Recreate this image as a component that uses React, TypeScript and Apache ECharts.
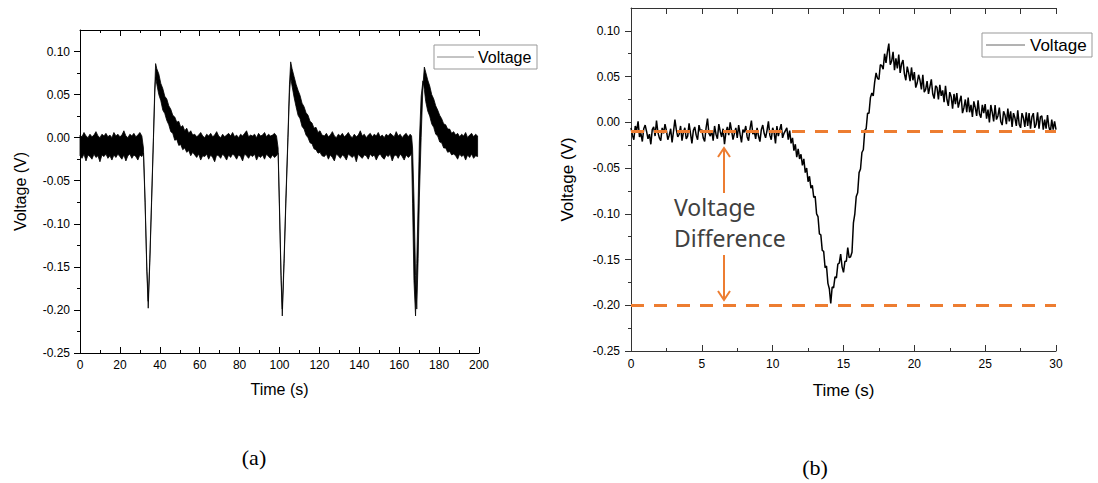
import React, { useEffect, useRef } from 'react';
import * as echarts from 'echarts';

// ---------- Panel (a): noisy trace read as upper / lower envelope ----------
const timeA = [
  // baseline
  0, 1, 2, 3, 4, 5, 6, 7, 8, 9, 10, 11, 12, 13, 14, 15, 16, 17, 18, 19, 20, 21, 22, 23, 24, 25, 26, 27, 28, 29, 30, 31,
  // pulse 1
  31.8, 32.6, 33.5, 34.2, 35.0, 35.9, 36.8, 37.5, 37.9,
  38.5, 39.5, 40.5, 41.5, 42.5, 43.5, 44.5, 45.5, 46.5, 47.5, 48.5, 49.5, 50.5, 51.5, 52.5, 53.5, 54.5, 55.5, 56.5,
  // baseline
  57.5, 58.5, 59.5, 60.5, 61.5, 62.5, 63.5, 64.5, 65.5, 66.5, 67.5, 68.5, 69.5, 70.5, 71.5, 72.5, 73.5, 74.5, 75.5, 76.5,
  77.5, 78.5, 79.5, 80.5, 81.5, 82.5, 83.5, 84.5, 85.5, 86.5, 87.5, 88.5, 89.5, 90.5, 91.5, 92.5, 93.5, 94.5, 95.5, 96.5,
  97.5, 98.5,
  // pulse 2
  99.3, 99.9, 100.8, 101.4, 102.3, 103.2, 104.2, 105.0, 105.6,
  106.3, 107.3, 108.3, 109.3, 110.3, 111.3, 112.3, 113.3, 114.3, 115.3, 116.3, 117.3, 118.3, 119.3, 120.3, 121.3,
  // baseline
  122.5, 123.5, 124.5, 125.5, 126.5, 127.5, 128.5, 129.5, 130.5, 131.5, 132.5, 133.5, 134.5, 135.5, 136.5, 137.5, 138.5,
  139.5, 140.5, 141.5, 142.5, 143.5, 144.5, 145.5, 146.5, 147.5, 148.5, 149.5, 150.5, 151.5, 152.5, 153.5, 154.5, 155.5,
  156.5, 157.5, 158.5, 159.5, 160.5, 161.5, 162.5, 163.5, 164.5, 165.5, 166.2,
  // pulse 3
  166.7, 167.4, 168.2, 168.8, 169.5, 170.1, 171.0, 171.9, 172.6,
  173.3, 174.3, 175.3, 176.3, 177.3, 178.3, 179.3, 180.3, 181.3, 182.3, 183.3, 184.3, 185.3, 186.3, 187.3, 188.3,
  // baseline
  189.3, 190.3, 191.3, 192.3, 193.3, 194.3, 195.3, 196.3, 197.3, 198.3, 199.3, 200,
];
const upperA = [
  0.003, 0.001, 0.006, 0.002, 0.000, 0.004, 0.001, 0.003, 0.007, 0.002, 0.000, 0.004, 0.002, 0.005, 0.001, 0.003,
  0.000, 0.006, 0.002, 0.004, 0.001, 0.003, 0.008, 0.002, 0.000, 0.004, 0.002, 0.005, 0.001, 0.003, 0.006, 0.002,
  -0.012, -0.070, -0.150, -0.190, -0.140, -0.070, 0.000, 0.060, 0.086,
  0.080, 0.074, 0.063, 0.057, 0.048, 0.045, 0.037, 0.033, 0.026, 0.024, 0.018, 0.019, 0.012, 0.014, 0.008, 0.011, 0.005, 0.008, 0.003,
  0.004, 0.001, 0.003, 0.006, 0.002, 0.000, 0.004, 0.002, 0.005, 0.001, 0.003, 0.007, 0.002, 0.000, 0.004, 0.001, 0.003, 0.005, 0.002, 0.006,
  0.001, 0.003, 0.000, 0.004, 0.002, 0.005, 0.008, 0.001, 0.003, 0.002, 0.004, 0.000, 0.005, 0.002, 0.003, 0.006, 0.001, 0.004, 0.002, 0.003,
  0.005, 0.002,
  -0.012, -0.070, -0.160, -0.199, -0.140, -0.070, 0.000, 0.062, 0.088,
  0.080, 0.071, 0.062, 0.055, 0.049, 0.040, 0.036, 0.029, 0.026, 0.019, 0.017, 0.011, 0.012, 0.006, 0.008, 0.003,
  0.002, 0.005, 0.001, 0.003, 0.007, 0.002, 0.000, 0.004, 0.002, 0.005, 0.001, 0.003, 0.006, 0.002, 0.000, 0.004, 0.001,
  0.003, 0.008, 0.002, 0.004, 0.000, 0.003, 0.005, 0.001, 0.004, 0.002, 0.006, 0.001, 0.003, 0.000, 0.004, 0.002, 0.005,
  0.003, 0.001, 0.007, 0.002, 0.004, 0.000, 0.003, 0.005, 0.001, 0.004, 0.002,
  -0.012, -0.070, -0.160, -0.199, -0.140, -0.070, 0.000, 0.060, 0.082,
  0.076, 0.067, 0.060, 0.050, 0.045, 0.037, 0.032, 0.026, 0.022, 0.016, 0.015, 0.010, 0.010, 0.005, 0.007, 0.003,
  0.005, 0.001, 0.004, 0.002, 0.006, 0.000, 0.003, 0.005, 0.001, 0.004, 0.002, 0.004,
];
const lowerA = [
  -0.021, -0.024, -0.019, -0.027, -0.020, -0.022, -0.025, -0.019, -0.023, -0.021, -0.028, -0.020, -0.022, -0.019, -0.024, -0.021,
  -0.026, -0.020, -0.023, -0.019, -0.022, -0.025, -0.020, -0.027, -0.021, -0.019, -0.024, -0.020, -0.022, -0.026, -0.020, -0.022,
  -0.018, -0.075, -0.155, -0.198, -0.145, -0.075, -0.004, 0.052, 0.070,
  0.062, 0.050, 0.043, 0.032, 0.028, 0.020, 0.015, 0.007, 0.005, -0.003, -0.002, -0.009, -0.008, -0.014, -0.012, -0.017, -0.015, -0.021, -0.017,
  -0.020, -0.023, -0.019, -0.026, -0.021, -0.022, -0.019, -0.025, -0.020, -0.023, -0.028, -0.020, -0.021, -0.024, -0.019, -0.022, -0.026, -0.020, -0.023, -0.019,
  -0.021, -0.025, -0.020, -0.022, -0.027, -0.019, -0.021, -0.024, -0.020, -0.022, -0.019, -0.026, -0.021, -0.023, -0.020, -0.025, -0.019, -0.022, -0.024, -0.020,
  -0.023, -0.021,
  -0.018, -0.076, -0.166, -0.207, -0.146, -0.076, -0.005, 0.052, 0.070,
  0.060, 0.047, 0.036, 0.026, 0.022, 0.013, 0.010, 0.003, 0.000, -0.006, -0.007, -0.013, -0.014, -0.018, -0.017, -0.021,
  -0.022, -0.019, -0.025, -0.020, -0.023, -0.027, -0.019, -0.021, -0.024, -0.020, -0.022, -0.026, -0.019, -0.021, -0.023, -0.020, -0.028,
  -0.019, -0.022, -0.024, -0.020, -0.021, -0.025, -0.019, -0.022, -0.020, -0.026, -0.021, -0.019, -0.023, -0.025, -0.020, -0.022,
  -0.019, -0.027, -0.021, -0.020, -0.024, -0.019, -0.022, -0.026, -0.020, -0.023, -0.021,
  -0.018, -0.076, -0.166, -0.207, -0.146, -0.076, -0.005, 0.048, 0.066,
  0.056, 0.042, 0.031, 0.025, 0.016, 0.012, 0.004, 0.002, -0.005, -0.006, -0.012, -0.012, -0.017, -0.016, -0.020, -0.019,
  -0.021, -0.025, -0.019, -0.022, -0.020, -0.026, -0.020, -0.023, -0.019, -0.024, -0.021, -0.022,
];

// ---------- Panel (b): trace sampled every 0.1 s, 0 .. 30 s ----------
const sampleStepB = 0.1;
const voltB = [
  -0.006, -0.014, -0.019, -0.004, -0.009, 0.001, -0.016, -0.012, -0.021, -0.007,
  -0.003, -0.010, -0.018, -0.013, -0.024, -0.008, -0.005, -0.015, 0.002, -0.011,
  -0.017, -0.020, -0.006, -0.012, -0.002, -0.009, -0.019, -0.014, -0.007, -0.022,
  -0.010, 0.003, -0.008, -0.016, -0.013, -0.004, -0.020, -0.011, -0.006, -0.018,
  -0.015, -0.001, -0.012, -0.023, -0.009, -0.005, -0.014, -0.019, -0.003, -0.010,
  -0.008, -0.017, -0.021, -0.006, 0.004, -0.012, -0.015, -0.009, -0.020, -0.004,
  -0.013, -0.018, -0.002, -0.010, -0.016, -0.007, -0.024, -0.011, -0.005, -0.014,
  0.000, -0.009, -0.019, -0.012, -0.006, -0.017, -0.003, -0.013, -0.022, -0.008,
  -0.011, -0.004, -0.016, -0.020, -0.007, 0.002, -0.013, -0.010, -0.018, -0.006,
  -0.015, -0.021, -0.008, -0.003, -0.012, -0.017, -0.009, 0.001, -0.014, -0.019,
  -0.006, -0.011, -0.023, -0.004, -0.015, -0.008, -0.002, -0.017, -0.012, -0.009,
  -0.006, -0.019, -0.009, -0.023, -0.017, -0.031, -0.024, -0.038, -0.029, -0.040,
  -0.035, -0.047, -0.040, -0.055, -0.050, -0.065, -0.059, -0.072, -0.069, -0.082,
  -0.081, -0.100, -0.103, -0.122, -0.123, -0.140, -0.141, -0.159, -0.157, -0.176,
  -0.182, -0.198, -0.180, -0.181, -0.169, -0.170, -0.155, -0.154, -0.144, -0.158,
  -0.164, -0.152, -0.152, -0.137, -0.148, -0.147, -0.142, -0.110, -0.100, -0.081,
  -0.077, -0.055, -0.051, -0.033, -0.030, -0.009, -0.007, 0.010, 0.010, 0.027,
  0.032, 0.029, 0.044, 0.054, 0.048, 0.047, 0.063, 0.062, 0.058, 0.075,
  0.065, 0.077, 0.086, 0.063, 0.067, 0.077, 0.057, 0.070, 0.059, 0.074,
  0.054, 0.064, 0.068, 0.053, 0.046, 0.061, 0.054, 0.045, 0.060, 0.046,
  0.055, 0.038, 0.043, 0.052, 0.046, 0.036, 0.052, 0.033, 0.036, 0.045,
  0.031, 0.039, 0.047, 0.031, 0.026, 0.040, 0.038, 0.025, 0.041, 0.029,
  0.035, 0.022, 0.040, 0.025, 0.018, 0.033, 0.028, 0.015, 0.031, 0.020,
  0.032, 0.016, 0.023, 0.029, 0.010, 0.016, 0.025, 0.011, 0.027, 0.011,
  0.019, 0.006, 0.023, 0.016, 0.007, 0.024, 0.009, 0.005, 0.019, 0.010,
  0.020, 0.004, 0.014, 0.000, 0.019, 0.011, 0.001, 0.019, 0.003, 0.007,
  0.016, 0.001, -0.003, 0.012, 0.008, -0.002, 0.015, 0.001, 0.012, -0.005,
  0.010, 0.005, -0.004, 0.013, -0.002, -0.006, 0.010, 0.005, -0.005, 0.011,
  -0.004, 0.010, -0.007, 0.006, 0.010, -0.006, -0.002, 0.011, -0.007, 0.006,
  0.007, -0.008, 0.003, -0.007, 0.008, -0.005, -0.011, 0.003, -0.008, 0.001,
  -0.008,
];
const baselineB = -0.011;
const troughB = -0.2035;

// ---------- Tick values ----------
const yTickValues = [-0.25, -0.2, -0.15, -0.1, -0.05, 0, 0.05, 0.1];
const xMaxA = 200;
const xIntervalA = 20;
const xMaxB = 30;
const xIntervalB = 5;
const yMin = -0.25;
const yMax = 0.125;

const sans = "'Liberation Sans', Arial, sans-serif";
const orange = '#ED7D31';

function bottomAxis(gridIndex: number, max: number, interval: number, color: string, nameSize: number, nameGap: number, labelMargin: number) {
  return {
    type: 'value', gridIndex, position: 'bottom', min: 0, max, interval,
    name: 'Time (s)', nameLocation: 'middle', nameGap,
    nameTextStyle: { fontFamily: sans, fontSize: nameSize, color: '#000' },
    axisLine: { show: true, onZero: false, lineStyle: { color, width: 1 } },
    axisTick: { show: true, inside: true, length: 6, lineStyle: { color, width: 1 } },
    minorTick: { show: true, splitNumber: 2, length: 3, lineStyle: { color, width: 1 } },
    axisLabel: { fontFamily: sans, fontSize: 12, color: '#000', margin: labelMargin },
    splitLine: { show: false }, minorSplitLine: { show: false },
  };
}
function topAxis(gridIndex: number, max: number, interval: number, color: string, minor: boolean) {
  return {
    type: 'value', gridIndex, position: 'top', min: 0, max, interval,
    axisLine: { show: true, onZero: false, lineStyle: { color, width: 1 } },
    axisTick: { show: true, inside: true, length: 6, lineStyle: { color, width: 1 } },
    minorTick: { show: minor, splitNumber: 2, length: 3, lineStyle: { color, width: 1 } },
    axisLabel: { show: false },
    splitLine: { show: false }, minorSplitLine: { show: false },
  };
}
function leftAxis(gridIndex: number, color: string, nameSize: number, nameGap: number, labelMargin: number) {
  return {
    type: 'value', gridIndex, position: 'left', min: yMin, max: yMax, interval: 0.05,
    name: 'Voltage (V)', nameLocation: 'middle', nameGap, nameRotate: 90,
    nameTextStyle: { fontFamily: sans, fontSize: nameSize, color: '#000' },
    axisLine: { show: true, onZero: false, lineStyle: { color, width: 1 } },
    axisTick: { show: true, inside: false, length: 6, customValues: yTickValues, lineStyle: { color, width: 1 } },
    minorTick: { show: true, splitNumber: 2, length: 3, lineStyle: { color, width: 1 } },
    axisLabel: {
      customValues: yTickValues, fontFamily: sans, fontSize: 12, color: '#000', margin: labelMargin,
      formatter: (v: number) => v.toFixed(2),
    },
    splitLine: { show: false }, minorSplitLine: { show: false },
  };
}

export default function App() {
  const ref = useRef<HTMLDivElement>(null);
  useEffect(() => {
    const chart = echarts.init(ref.current!, null, { renderer: 'svg' });
    const seriesB = voltB.map((v, i) => [+(i * sampleStepB).toFixed(1), v]);
    const nA = Math.min(timeA.length, upperA.length, lowerA.length);

    const option: any = {
      animation: false,
      backgroundColor: '#fff',
      grid: [
        { left: 80, top: 30, width: 399, height: 323 },
        { left: 631, top: 8, width: 425, height: 343 },
      ],
      xAxis: [
        bottomAxis(0, xMaxA, xIntervalA, '#000', 16, 28, 6),
        topAxis(0, xMaxA, xIntervalA, '#000', true),
        bottomAxis(1, xMaxB, xIntervalB, '#333', 17, 31, 7),
        topAxis(1, xMaxB, 2.5, '#333', false),
      ],
      yAxis: [
        leftAxis(0, '#000', 16, 52, 10),
        leftAxis(1, '#333', 17, 55, 11),
      ],
      series: [
        {
          // band between the upper and lower envelope of the noisy trace (a)
          type: 'custom', name: 'Voltage', coordinateSystem: 'cartesian2d', xAxisIndex: 0, yAxisIndex: 0,
          silent: true,
          data: [[timeA[0], lowerA[0]]],
          renderItem: (_params: any, api: any) => {
            const pts: number[][] = [];
            for (let i = 0; i < nA; i++) pts.push(api.coord([timeA[i], upperA[i]]));
            for (let i = nA - 1; i >= 0; i--) pts.push(api.coord([timeA[i], lowerA[i]]));
            return {
              type: 'polygon',
              shape: { points: pts },
              style: { fill: '#000', stroke: '#000', lineWidth: 0.8 },
            };
          },
        },
        {
          type: 'line', name: 'VoltageB', xAxisIndex: 2, yAxisIndex: 1,
          data: seriesB, symbol: 'none', silent: true,
          lineStyle: { color: '#000', width: 1.5 },
        },
        {
          type: 'line', name: 'levels', xAxisIndex: 2, yAxisIndex: 1, data: [], silent: true,
          markLine: {
            silent: true, symbol: ['none', 'none'], label: { show: false },
            lineStyle: { color: orange, width: 3, type: [13, 10] },
            data: [{ yAxis: baselineB }, { yAxis: troughB }],
          },
        },
      ],
      graphic: [
        // legend (a)
        { type: 'rect', shape: { x: 434, y: 45, width: 103, height: 24 }, style: { fill: '#fff', stroke: '#999', lineWidth: 1 } },
        { type: 'line', shape: { x1: 437, y1: 57, x2: 474, y2: 57 }, style: { stroke: '#888', lineWidth: 1 } },
        { type: 'text', x: 478, y: 57, style: { text: 'Voltage', fontFamily: sans, fontSize: 16, fill: '#000', align: 'left', verticalAlign: 'middle' } },
        // legend (b)
        { type: 'rect', shape: { x: 982, y: 33, width: 110, height: 24 }, style: { fill: '#fff', stroke: '#999', lineWidth: 1 } },
        { type: 'line', shape: { x1: 986, y1: 45, x2: 1025, y2: 45 }, style: { stroke: '#666', lineWidth: 1 } },
        { type: 'text', x: 1030, y: 45, style: { text: 'Voltage', fontFamily: sans, fontSize: 17, fill: '#000', align: 'left', verticalAlign: 'middle' } },
        // voltage difference annotation
        { type: 'line', shape: { x1: 724, y1: 193, x2: 724, y2: 149 }, style: { stroke: orange, lineWidth: 2 } },
        { type: 'polyline', shape: { points: [[718, 157], [724, 148], [730, 157]] }, style: { stroke: orange, lineWidth: 2, fill: 'none' } },
        { type: 'line', shape: { x1: 724, y1: 255, x2: 724, y2: 299 }, style: { stroke: orange, lineWidth: 2 } },
        { type: 'polyline', shape: { points: [[718, 291], [724, 300], [730, 291]] }, style: { stroke: orange, lineWidth: 2, fill: 'none' } },
        { type: 'text', x: 674, y: 207, style: { text: 'Voltage', fontFamily: "'Noto Sans', sans-serif", fontSize: 23, fill: '#404040', align: 'left', verticalAlign: 'middle' } },
        { type: 'text', x: 674, y: 238, style: { text: 'Difference', fontFamily: "'Noto Sans', sans-serif", fontSize: 23, fill: '#404040', align: 'left', verticalAlign: 'middle' } },
        // panel labels
        { type: 'text', x: 254, y: 457, style: { text: '(a)', fontFamily: "'Liberation Serif', 'Times New Roman', serif", fontSize: 22, fill: '#000', align: 'center', verticalAlign: 'middle' } },
        { type: 'text', x: 815, y: 467, style: { text: '(b)', fontFamily: "'Liberation Serif', 'Times New Roman', serif", fontSize: 22, fill: '#000', align: 'center', verticalAlign: 'middle' } },
      ],
    };
    chart.setOption(option);
    return () => chart.dispose();
  }, []);
  return (
    <div
      ref={ref}
      style={{ position: 'absolute', left: 0, top: 0, width: 1098, height: 483, background: '#fff' }}
    />
  );
}
